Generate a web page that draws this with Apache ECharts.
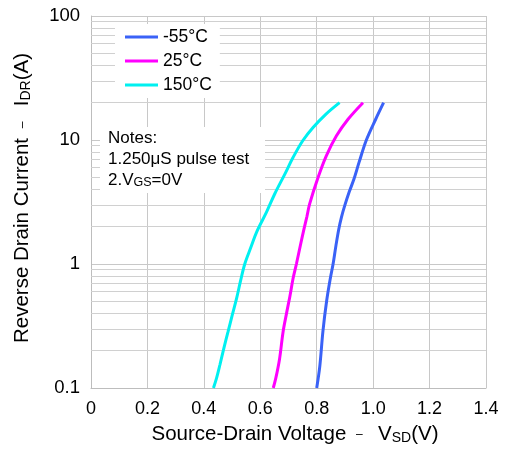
<!DOCTYPE html>
<html><head><meta charset="utf-8">
<script src="https://cdn.jsdelivr.net/npm/echarts@6/dist/echarts.min.js"></script>
<style>html,body{margin:0;padding:0;background:#fff}#c{width:507px;height:450px}</style>
</head><body><div id="c"></div>
<script>
var seriesNames = ['-55°C', '25°C', '150°C'];
var seriesColors = ['#3a62f7', '#ff00ff', '#00f0f0'];
var dataM55 = [[0.800,0.1],[0.811,0.15],[0.822,0.286],[0.835,0.5],[0.848,0.76],[0.858,1.0],[0.868,1.4],[0.878,1.9],[0.888,2.4],[0.899,2.94],[0.915,3.8],[0.932,4.84],[0.950,6.6],[0.976,10],[1.009,14.7],[1.037,20]];
var data25 = [[0.646,0.1],[0.655,0.12],[0.668,0.17],[0.681,0.286],[0.693,0.40],[0.705,0.55],[0.716,0.76],[0.728,1.0],[0.742,1.41],[0.755,1.92],[0.765,2.4],[0.775,3.05],[0.805,5.0],[0.834,7.45],[0.870,10.8],[0.911,14.7],[0.964,20]];
var data150 = [[0.434,0.1],[0.445,0.12],[0.457,0.154],[0.471,0.21],[0.486,0.286],[0.501,0.39],[0.516,0.528],[0.530,0.73],[0.545,1.0],[0.566,1.35],[0.587,1.81],[0.622,2.62],[0.651,3.67],[0.687,5.31],[0.716,7.22],[0.751,9.9],[0.787,12.6],[0.832,16.1],[0.881,20]];
var xTicks = [0, 0.2, 0.4, 0.6, 0.8, 1.0, 1.2, 1.4];
var xTickLabels = ['0', '0.2', '0.4', '0.6', '0.8', '1.0', '1.2', '1.4'];
var yTickLabels = {'0.1':'0.1', '1':'1', '10':'10', '100':'100'};
var minorY = [0.2,0.3,0.4,0.5,0.6,0.7,0.8,0.9,2,3,4,5,6,7,8,9,20,30,40,50,60,70,80,90];

var font = 'Liberation Sans, Arial, sans-serif';
var chart = echarts.init(document.getElementById('c'));
var allData = [dataM55, data25, data150];
var series = allData.map(function(d, i){
  return {
    name: seriesNames[i], type: 'line', data: d, symbol: 'none', smooth: 0.35,
    lineStyle: {width: 3, color: seriesColors[i]}, itemStyle: {color: seriesColors[i]}, z: 5
  };
});
series.push({
  type: 'line', data: [], silent: true,
  markLine: {
    silent: true, symbol: 'none', label: {show: false},
    lineStyle: {color: '#d0d0d0', width: 1, type: 'solid'},
    data: minorY.map(function(v){ return {yAxis: v}; })
  }, z: 1
});
var richName = {
  sub: {fontSize: 14, color: '#000', fontFamily: font, padding: [7,0,0,0]},
  d: {fontSize: 12, color: '#000', fontFamily: font, padding: [0,4,0,4]}
};
chart.setOption({
  animation: false,
  textStyle: {fontFamily: font},
  grid: {left: 91, right: 21, top: 16, bottom: 59},
  legend: {
    left: 115, top: 24, orient: 'vertical', itemWidth: 33, itemHeight: 3, itemGap: 6,
    backgroundColor: '#fff', padding: [4, 8, 4, 10], zlevel: 1,
    data: seriesNames, textStyle: {fontSize: 17.5, color: '#000', fontFamily: font, lineHeight: 18}, icon: 'rect',
    itemStyle: {borderWidth: 0}
  },
  xAxis: {
    type: 'value', min: 0, max: 1.4, interval: 0.2,
    axisLine: {show: true, lineStyle: {color: '#bdbdbd'}}, axisTick: {show: false},
    splitLine: {show: true, lineStyle: {color: '#c8c8c8', width: 1}},
    axisLabel: {fontSize: 18, color: '#000', margin: 12, fontFamily: font,
      formatter: function(v){ var i = xTicks.findIndex(function(t){return Math.abs(t-v)<1e-6;}); return i>=0 ? xTickLabels[i] : ''; }},
    name: 'Source-Drain Voltage {d|–}  V{sub|SD}(V)', nameLocation: 'middle', nameGap: 36,
    nameTextStyle: {fontSize: 20.5, color: '#000', fontFamily: font, padding: [0,0,0,13], rich: richName}
  },
  yAxis: {
    type: 'log', logBase: 10, min: 0.1, max: 100,
    axisLine: {show: true, lineStyle: {color: '#bdbdbd'}}, axisTick: {show: false},
    splitLine: {show: true, lineStyle: {color: '#c8c8c8', width: 1}},
    axisLabel: {fontSize: 18.5, color: '#000', margin: 11, fontFamily: font,
      formatter: function(v){ var k = String(+v.toPrecision(3)); return yTickLabels[k] || ''; }},
    name: 'Reverse Drain Current {d|–}  I{sub|DR}(A)', nameLocation: 'middle', nameGap: 58, nameRotate: 90,
    nameTextStyle: {fontSize: 20.5, color: '#000', fontFamily: font, padding: [0,0,0,8], rich: richName}
  },
  graphic: [{
    type: 'group', left: 100, top: 127, zlevel: 1, z: 100,
    children: [
      {type: 'rect', zlevel: 1, z: 100, shape: {x: 0, y: 0, width: 165, height: 66}, style: {fill: '#fff'}},
      {type: 'text', zlevel: 1, z: 101, x: 8, y: 1, style: {
        text: 'Notes:\n1.250μS pulse test\n2.V{s|GS}=0V', fontSize: 17, lineHeight: 21, fill: '#000', fontFamily: font,
        rich: {s: {fontSize: 12.5, fill: '#000', fontFamily: font, padding: [5,0,0,0]}}
      }}
    ]
  }],
  series: series
});
</script></body></html>
